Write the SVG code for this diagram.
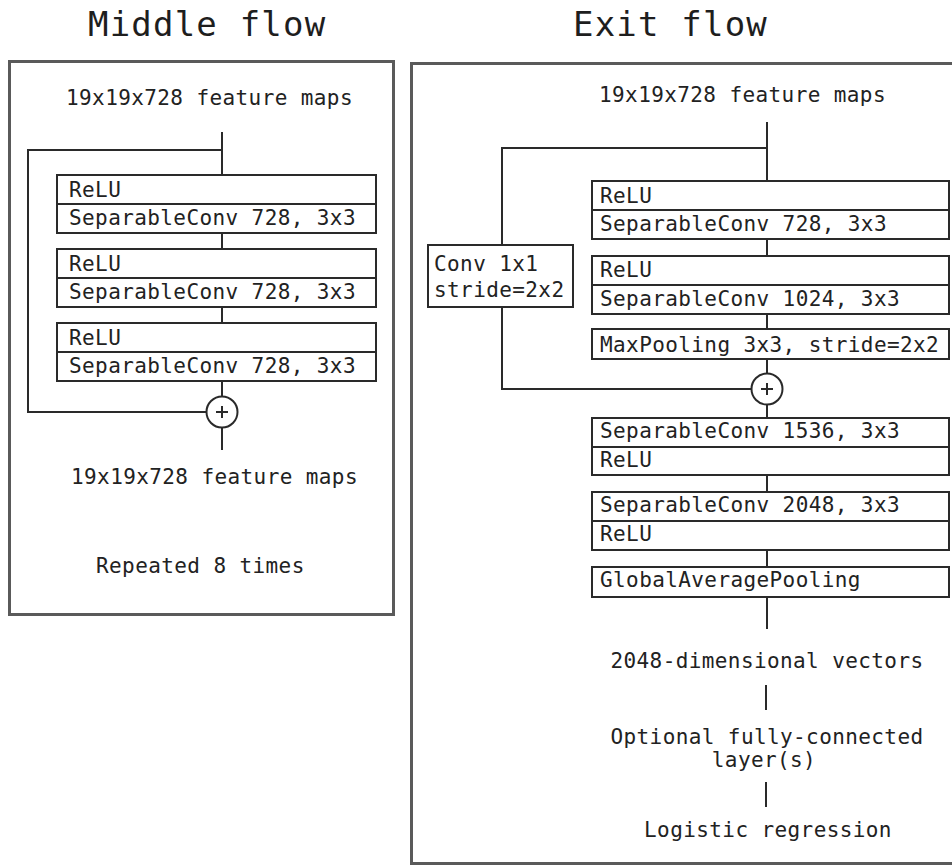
<svg xmlns="http://www.w3.org/2000/svg" width="952" height="866" viewBox="0 0 952 866">
  <style>
    .title { font-family: "DejaVu Sans Mono", "Liberation Mono", monospace; font-size: 34px; letter-spacing: 1.2px; fill: #1e1e1e; }
    .t { font-family: "DejaVu Sans Mono", "Liberation Mono", monospace; font-size: 21px; letter-spacing: 0.4px; fill: #222; }
    .c { text-anchor: middle; }
    .frame { fill: none; stroke: #5a5a5a; stroke-width: 3; }
    .box { fill: #fff; stroke: #2a2a2a; stroke-width: 2; }
    .div { stroke: #2a2a2a; stroke-width: 2; }
    .wire { fill: none; stroke: #2a2a2a; stroke-width: 2; }
    .sum { fill: #fff; stroke: #2a2a2a; stroke-width: 2; }
  </style>
  <rect width="952" height="866" fill="#fff"/>

  <!-- Titles -->
  <text class="title" x="88" y="36">Middle flow</text>
  <text class="title" x="573" y="36">Exit flow</text>

  <!-- Frames -->
  <rect class="frame" x="9.5" y="61.5" width="384" height="553"/>
  <rect class="frame" x="411.5" y="63.5" width="560" height="800"/>

  <!-- Connectors -->
  <g id="connectors">
    <!-- middle flow -->
    <path class="wire" d="M222 132 V175"/>
    <path class="wire" d="M222 233 V249"/>
    <path class="wire" d="M222 307 V323"/>
    <path class="wire" d="M222 381 V396.5"/>
    <path class="wire" d="M222 427.5 V450"/>
    <path class="wire" d="M222 150 H28 V412 H206.5"/>
    <!-- exit flow -->
    <path class="wire" d="M767 122 V181"/>
    <path class="wire" d="M767 239 V256"/>
    <path class="wire" d="M767 314 V329"/>
    <path class="wire" d="M767 359 V373.5"/>
    <path class="wire" d="M767 404.5 V418"/>
    <path class="wire" d="M767 475 V492"/>
    <path class="wire" d="M767 550 V567"/>
    <path class="wire" d="M767 597 V629"/>
    <path class="wire" d="M767 148 H502 V245"/>
    <path class="wire" d="M502 307 V389 H751.5"/>
    <path class="wire" d="M766 685 V710"/>
    <path class="wire" d="M766 782 V807"/>
  </g>

  <!-- Middle flow nodes -->
  <g id="mid-in"><text class="t" x="66" y="105">19x19x728 feature maps</text></g>
  <g id="mid-block1">
    <rect class="box" x="57" y="175" width="319" height="58"/>
    <line class="div" x1="57" y1="204" x2="376" y2="204"/>
    <text class="t" x="69" y="197">ReLU</text>
    <text class="t" x="69" y="225">SeparableConv 728, 3x3</text>
  </g>
  <g id="mid-block2">
    <rect class="box" x="57" y="249" width="319" height="58"/>
    <line class="div" x1="57" y1="278" x2="376" y2="278"/>
    <text class="t" x="69" y="271">ReLU</text>
    <text class="t" x="69" y="299">SeparableConv 728, 3x3</text>
  </g>
  <g id="mid-block3">
    <rect class="box" x="57" y="323" width="319" height="58"/>
    <line class="div" x1="57" y1="352" x2="376" y2="352"/>
    <text class="t" x="69" y="345">ReLU</text>
    <text class="t" x="69" y="373">SeparableConv 728, 3x3</text>
  </g>
  <g id="mid-sum">
    <circle class="sum" cx="222" cy="412" r="15.5"/>
    <path class="wire" d="M216 412 H228 M222 406 V418"/>
  </g>
  <g id="mid-out"><text class="t" x="71" y="484">19x19x728 feature maps</text></g>
  <g id="mid-repeat"><text class="t" x="96" y="573">Repeated 8 times</text></g>

  <!-- Exit flow nodes -->
  <g id="exit-in"><text class="t" x="599" y="102">19x19x728 feature maps</text></g>
  <g id="exit-block1">
    <rect class="box" x="592" y="181" width="357" height="58"/>
    <line class="div" x1="592" y1="210" x2="949" y2="210"/>
    <text class="t" x="600" y="203">ReLU</text>
    <text class="t" x="600" y="231">SeparableConv 728, 3x3</text>
  </g>
  <g id="exit-block2">
    <rect class="box" x="592" y="256" width="357" height="58"/>
    <line class="div" x1="592" y1="285" x2="949" y2="285"/>
    <text class="t" x="600" y="277">ReLU</text>
    <text class="t" x="600" y="306">SeparableConv 1024, 3x3</text>
  </g>
  <g id="exit-pool">
    <rect class="box" x="592" y="329" width="357" height="30"/>
    <text class="t" x="600" y="352">MaxPooling 3x3, stride=2x2</text>
  </g>
  <g id="exit-shortcut">
    <rect class="box" x="428" y="245" width="145" height="62"/>
    <text class="t" x="434" y="271">Conv 1x1</text>
    <text class="t" x="434" y="297">stride=2x2</text>
  </g>
  <g id="exit-sum">
    <circle class="sum" cx="767" cy="389" r="15.5"/>
    <path class="wire" d="M761 389 H773 M767 383 V395"/>
  </g>
  <g id="exit-block3">
    <rect class="box" x="592" y="418" width="357" height="57"/>
    <line class="div" x1="592" y1="447" x2="949" y2="447"/>
    <text class="t" x="600" y="438">SeparableConv 1536, 3x3</text>
    <text class="t" x="600" y="467">ReLU</text>
  </g>
  <g id="exit-block4">
    <rect class="box" x="592" y="492" width="357" height="58"/>
    <line class="div" x1="592" y1="521" x2="949" y2="521"/>
    <text class="t" x="600" y="512">SeparableConv 2048, 3x3</text>
    <text class="t" x="600" y="541">ReLU</text>
  </g>
  <g id="exit-gap">
    <rect class="box" x="592" y="567" width="357" height="30"/>
    <text class="t" x="600" y="587">GlobalAveragePooling</text>
  </g>
  <g id="exit-vec"><text class="t c" x="767" y="668">2048-dimensional vectors</text></g>
  <g id="exit-fc">
    <text class="t c" x="767" y="744">Optional fully-connected</text>
    <text class="t c" x="764" y="767">layer(s)</text>
  </g>
  <g id="exit-logreg"><text class="t c" x="768" y="837">Logistic regression</text></g>
</svg>
